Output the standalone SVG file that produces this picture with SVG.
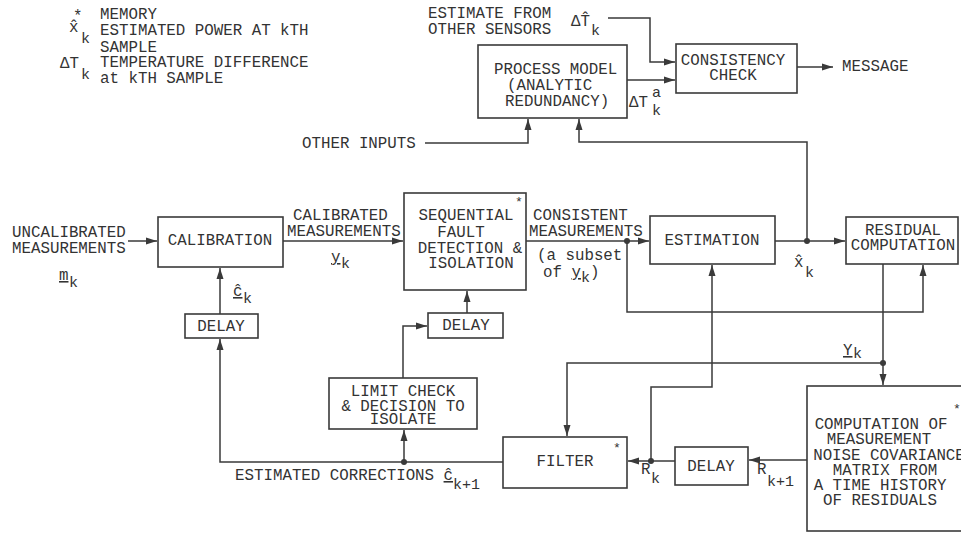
<svg xmlns="http://www.w3.org/2000/svg" width="961" height="533" viewBox="0 0 961 533">
<style>
text{font-family:"Liberation Mono","DejaVu Sans Mono",monospace;font-size:15.8px;fill:#333}
.m{text-anchor:middle}
.s{font-size:15px}
.st{font-size:13px}
.u{text-decoration:underline}
.box{fill:none;stroke:#3a3a3a;stroke-width:1.6}
.ar{fill:none;stroke:#3a3a3a;stroke-width:1.5;marker-end:url(#ah)}
.dot{fill:#3a3a3a}
</style>
<defs>
<marker id="ah" markerUnits="userSpaceOnUse" markerWidth="11" markerHeight="8" refX="11" refY="4" orient="auto">
<path d="M0,0.5 L11,4 L0,7.5 z" fill="#3a3a3a"/>
</marker>
</defs>
<rect width="961" height="533" fill="#fff"/>

<g id="legend">
<text><tspan x="73" y="21">*</tspan><tspan x="69" y="32">x̂</tspan><tspan class="s" x="81" y="43">k</tspan><tspan x="60" y="68">ΔT</tspan><tspan class="s" x="81" y="79">k</tspan></text>
<text><tspan x="100" y="19">MEMORY</tspan><tspan x="100" y="35">ESTIMATED POWER AT kTH</tspan><tspan x="100" y="52">SAMPLE</tspan><tspan x="100" y="67">TEMPERATURE DIFFERENCE</tspan><tspan x="100" y="83">at kTH SAMPLE</tspan></text>
</g>

<g id="connectors">
<path class="ar" d="M128,241 H157"/>
<path class="ar" d="M283,241 H403"/>
<path class="ar" d="M526,241 H649"/>
<path class="ar" d="M775,241 H845"/>
<path class="ar" d="M608,18 H650 V62 H675"/>
<path class="ar" d="M627,80 H675"/>
<path class="ar" d="M797,67 H833"/>
<path class="ar" d="M425,143 H528 V119"/>
<path class="ar" d="M807,241 V142 H579 V119"/>
<path class="ar" d="M627,241 V312 H923 V265"/>
<path class="ar" d="M883,264 V385"/>
<path class="ar" d="M883,363 H567 V436"/>
<path class="ar" d="M807,460 H749"/>
<path class="ar" d="M675,461 H628"/>
<path class="ar" d="M651,461 V387 H712 V265"/>
<path class="ar" d="M503,462 H220 V339"/>
<path class="ar" d="M404,462 V430"/>
<path class="ar" d="M403,378 V326 H427"/>
<path class="ar" d="M467,313 V291"/>
<path class="ar" d="M220,314 V268"/>
<circle class="dot" cx="627" cy="241" r="3"/>
<circle class="dot" cx="807" cy="241" r="3"/>
<circle class="dot" cx="883" cy="363" r="3"/>
<circle class="dot" cx="651" cy="461" r="3"/>
<circle class="dot" cx="404" cy="462" r="3"/>
</g>

<g id="labels">
<text><tspan x="428" y="18">ESTIMATE FROM</tspan><tspan x="428" y="34">OTHER SENSORS</tspan></text>
<text x="571" y="26">ΔT̂<tspan class="s" x="591" y="35">k</tspan></text>
<text x="629" y="107">ΔT<tspan class="s" x="652" y="97">a</tspan><tspan class="s" x="652" y="115">k</tspan></text>
<text x="842" y="71">MESSAGE</text>
<text x="302" y="148">OTHER INPUTS</text>
<text><tspan x="12" y="237">UNCALIBRATED</tspan><tspan x="12" y="253">MEASUREMENTS</tspan></text>
<text x="59" y="280"><tspan class="u">m</tspan><tspan class="s" x="69" y="287">k</tspan></text>
<text><tspan x="293" y="220">CALIBRATED</tspan><tspan x="287" y="236">MEASUREMENTS</tspan></text>
<text x="331" y="262"><tspan class="u">y</tspan><tspan class="s" x="341" y="268">k</tspan></text>
<text x="233" y="296"><tspan class="u">ĉ</tspan><tspan class="s" x="243" y="303">k</tspan></text>
<text><tspan x="533" y="220">CONSISTENT</tspan><tspan x="529" y="236">MEASUREMENTS</tspan><tspan x="537" y="260">(a subset</tspan><tspan x="543" y="277">of </tspan><tspan class="u">y</tspan><tspan class="s" dy="5">k</tspan><tspan dy="-5">)</tspan></text>
<text x="794" y="267">x̂<tspan class="s" x="805" y="277">k</tspan></text>
<text x="843" y="355"><tspan class="u">Y</tspan><tspan class="s" x="853" y="358">k</tspan></text>
<text x="757" y="474">R<tspan class="s" x="767" y="486">k+1</tspan></text>
<text x="641" y="474">R<tspan class="s" x="651" y="483">k</tspan></text>
<text x="235" y="480">ESTIMATED CORRECTIONS <tspan class="u">ĉ</tspan><tspan class="s" dy="9">k+1</tspan></text>
</g>

<g id="calibration">
<rect class="box" x="158" y="217" width="125" height="50"/>
<text class="m" x="220" y="245">CALIBRATION</text>
</g>
<g id="delay-cal">
<rect class="box" x="185" y="314" width="73" height="24"/>
<text class="m" x="221" y="331">DELAY</text>
</g>
<g id="sfdi">
<rect class="box" x="404" y="193" width="122" height="97"/>
<text x="515" y="206" class="st">*</text>
<text class="m"><tspan x="466" y="220">SEQUENTIAL</tspan><tspan x="461" y="237">FAULT</tspan><tspan x="470" y="253">DETECTION &amp;</tspan><tspan x="471" y="268">ISOLATION</tspan></text>
</g>
<g id="delay-sfdi">
<rect class="box" x="428" y="313" width="75" height="25"/>
<text class="m" x="466" y="330">DELAY</text>
</g>
<g id="limit-check">
<rect class="box" x="329" y="378" width="148" height="51"/>
<text class="m"><tspan x="403" y="396">LIMIT CHECK</tspan><tspan x="403" y="411">&amp; DECISION TO</tspan><tspan x="403" y="424">ISOLATE</tspan></text>
</g>
<g id="process-model">
<rect class="box" x="478" y="45" width="149" height="73"/>
<text><tspan x="494" y="74">PROCESS MODEL</tspan><tspan x="507" y="90">(ANALYTIC</tspan><tspan x="505" y="106">REDUNDANCY)</tspan></text>
</g>
<g id="consistency-check">
<rect class="box" x="676" y="44" width="121" height="49"/>
<text class="m"><tspan x="733" y="65">CONSISTENCY</tspan><tspan x="733" y="80">CHECK</tspan></text>
</g>
<g id="estimation">
<rect class="box" x="650" y="216" width="125" height="48"/>
<text class="m" x="712" y="245">ESTIMATION</text>
</g>
<g id="residual">
<rect class="box" x="846" y="217" width="112" height="47"/>
<text class="m"><tspan x="903" y="235">RESIDUAL</tspan><tspan x="903" y="250">COMPUTATION</tspan></text>
</g>
<g id="filter">
<rect class="box" x="503" y="437" width="124" height="51"/>
<text x="613" y="452" class="st">*</text>
<text class="m" x="565" y="466">FILTER</text>
</g>
<g id="delay-r">
<rect class="box" x="675" y="447" width="73" height="38"/>
<text class="m" x="711" y="471">DELAY</text>
</g>
<g id="covariance">
<rect class="box" x="807" y="386" width="170" height="145"/>
<text x="953" y="413" class="st">*</text>
<text class="m"><tspan x="881" y="429">COMPUTATION OF</tspan><tspan x="879" y="444">MEASUREMENT</tspan><tspan x="889" y="460">NOISE COVARIANCE</tspan><tspan x="885" y="475">MATRIX FROM</tspan><tspan x="880" y="490">A TIME HISTORY</tspan><tspan x="880" y="505">OF RESIDUALS</tspan></text>
</g>
</svg>
